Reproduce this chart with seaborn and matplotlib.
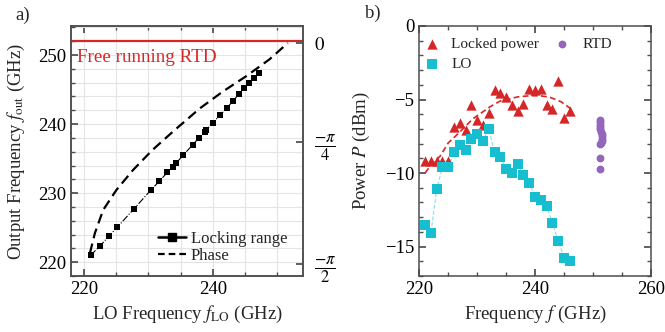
import matplotlib
matplotlib.use("Agg")
import matplotlib.pyplot as plt
from matplotlib.lines import Line2D
from matplotlib.ticker import MultipleLocator, NullLocator
import numpy as np
import seaborn as sns

# ---- panel a: locking range and phase ----
LOCK_LO = [221.03, 222.47, 223.86, 225.2, 227.82, 230.34, 231.73, 232.96, 233.79, 234.3,
           235.43, 236.88, 237.81, 238.75, 238.95, 239.97, 241.1, 242.18, 243.15, 244.07,
           244.85, 245.57, 246.34, 247.16]
LOCK_OUT = [220.97, 222.33, 223.74, 225.09, 227.77, 230.39, 231.75, 233.01, 233.83, 234.32,
            235.53, 236.99, 237.96, 238.9, 239.1, 240.2, 241.25, 242.33, 243.35, 244.37,
            245.24, 245.97, 246.7, 247.42]
PHASE_LO = [220.93, 221.7, 222.99, 225.05, 227.62, 230.63, 234.1, 238.01, 241.56, 245.22, 248.81, 251.64]
PHASE_RAD = [-1.502, -1.373, -1.223, -1.094, -0.966, -0.837, -0.69, -0.518, -0.385, -0.262, -0.129, 0.0]
FREE_RUNNING_GHZ = 252.1
PHASE_TICKS = [0, -np.pi / 4, -np.pi / 2]
PHASE_TICK_LABELS = ["$0$", r"$\frac{-\pi}{4}$", r"$\frac{-\pi}{2}$"]

# ---- panel b: output power ----
FREQ = [221, 222, 223, 224, 225, 226, 227, 228, 229, 230, 231, 232, 233,
        234, 235, 236, 237, 238, 239, 240, 241, 242, 243, 244, 245, 246]
LOCKED_P = [-9.15, -9.15, -9.15, -9.15, -9.15, -6.9, -6.6, -7.1, -5.37, -6.42, -6.7, -5.9, -4.33,
            -4.58, -4.83, -5.35, -5.76, -5.31, -4.28, -4.33, -4.28, -5.35, -5.67, -3.72, -6.24, -5.76]
LO_P = [-13.5, -14.1, -11.1, -9.6, -9.6, -8.6, -8.1, -8.4, -7.7, -7.35, -7.8, -7.0, -8.6,
        -8.9, -9.7, -10.0, -9.35, -10.15, -10.7, -11.6, -11.8, -12.25, -13.4, -14.6, -15.75, -16.0]
FIT_F = [221.0, 222.0, 223.6, 225.0, 226.5, 229.3, 232.2, 234.0, 235.7, 237.0, 239.2, 241.0, 242.6, 244.5, 246.1]
FIT_P = [-10.0, -9.45, -8.85, -7.95, -7.4, -6.3, -5.5, -5.1, -4.95, -4.82, -4.74, -4.75, -4.85, -5.15, -5.6]
RTD_F = [251.2, 251.2, 251.25, 251.25, 251.3, 251.35, 251.5, 251.6, 251.65, 251.6, 251.4, 251.2, 251.2, 251.2]
RTD_P = [-6.4, -6.55, -6.7, -6.85, -7.0, -7.2, -7.35, -7.5, -7.65, -7.8, -7.95, -8.05, -9.0, -9.7]

RED = "#d62728"
CYAN = "#17becf"
PURPLE = "#9467bd"
SPINE = "0.3"

sns.set_theme(style="ticks")
plt.rcParams.update({
    "font.family": ["Liberation Serif", "DejaVu Serif"],
    "mathtext.fontset": "stix",
    "font.size": 13.5,
    "axes.labelsize": 13.5,
    "xtick.labelsize": 13.5,
    "ytick.labelsize": 13.5,
    "axes.edgecolor": SPINE,
    "axes.linewidth": 1.1,
    "xtick.color": SPINE,
    "ytick.color": SPINE,
    "xtick.labelcolor": "black",
    "ytick.labelcolor": "black",
    "xtick.direction": "in",
    "ytick.direction": "in",
    "xtick.major.size": 5,
    "ytick.major.size": 5,
    "xtick.minor.size": 3,
    "ytick.minor.size": 3,
})

# piecewise axis for the phase scale (as drawn in the original)
KNOT_V = [-3 * np.pi / 4, -np.pi / 2, -np.pi / 4, 0, np.pi / 4]
KNOT_U = [-122, 0, 122, 221, 320]


def phase_fwd(v):
    return np.interp(v, KNOT_V, KNOT_U)


def phase_inv(u):
    return np.interp(u, KNOT_U, KNOT_V)


fig = plt.figure(figsize=(6.65, 3.32), dpi=100)
axa = fig.add_axes([71 / 665, 56 / 332, 232 / 665, 250 / 332])
axb = fig.add_axes([419.3 / 665, 56 / 332, 231.4 / 665, 250 / 332])

# ---------- a) ----------
axa.set_xlim(218, 254)
axa.set_ylim(218, 254.2)
axa.xaxis.set_major_locator(MultipleLocator(20))
axa.xaxis.set_minor_locator(MultipleLocator(5))
axa.yaxis.set_major_locator(MultipleLocator(10))
axa.yaxis.set_minor_locator(MultipleLocator(2))
axa.grid(which="both", color="#e4e4e4", lw=0.8)
axa.set_axisbelow(True)
axa.tick_params(which="both", top=True, right=False)

sns.lineplot(x=LOCK_LO, y=LOCK_OUT, ax=axa, color="black", lw=0.8, linestyle="-.", sort=False)
sns.scatterplot(x=LOCK_LO, y=LOCK_OUT, ax=axa, color="black", marker="s", s=20, linewidth=0, zorder=3)
axa.axhline(FREE_RUNNING_GHZ, color=RED, lw=1.6)
axa.text(218.9, 249.0, "Free running RTD", color=RED, fontsize=13.7, va="baseline", ha="left")

axa.set_xlabel(r"LO Frequency $f_{\rm LO}$ (GHz)", labelpad=4)
axa.set_ylabel(r"Output Frequency $f_{\rm out}$ (GHz)")
axa.yaxis.set_label_coords(-0.19, 0.5)

axp = axa.twinx()
axp.set_yscale("function", functions=(phase_fwd, phase_inv))
axp.set_ylim(-1.648, 0.135)
sns.lineplot(x=PHASE_LO, y=PHASE_RAD, ax=axp, color="black", lw=1.6, sort=False)
axp.lines[-1].set_dashes((4.5, 2.5))
axp.set_yticks(PHASE_TICKS)
axp.set_yticklabels(PHASE_TICK_LABELS)
for lbl in axp.get_yticklabels()[1:]:
    lbl.set_fontsize(17)
axp.yaxis.set_minor_locator(NullLocator())
axp.tick_params(axis="y", which="major", pad=8)

handles = [Line2D([], [], color="black", marker="s", ms=6, lw=1.8),
           Line2D([], [], color="black", ls=(0, (3, 1.8)), lw=1.6)]
axp.legend(handles, ["Locking range", "Phase"], loc="lower right", frameon=False,
           fontsize=12, handlelength=1.7, handletextpad=0.25, labelspacing=0.1,
           bbox_to_anchor=(0.996, -0.013))

fig.text(15 / 665, 1 - 20 / 332, "a)", fontsize=13.5, va="baseline")

# ---------- b) ----------
axb.set_xlim(220, 260)
axb.set_ylim(-17, 0)
axb.xaxis.set_major_locator(MultipleLocator(20))
axb.xaxis.set_minor_locator(MultipleLocator(5))
axb.yaxis.set_major_locator(MultipleLocator(5))
axb.yaxis.set_minor_locator(MultipleLocator(1))
axb.tick_params(which="both", top=True, right=True)

sns.lineplot(x=FREQ, y=LO_P, ax=axb, color="#8fdde6", lw=0.8, linestyle="--", sort=False)
sns.lineplot(x=FIT_F, y=FIT_P, ax=axb, color=RED, lw=1.2, sort=False)
axb.lines[-1].set_dashes((3.5, 2))
sns.scatterplot(x=FREQ, y=LOCKED_P, ax=axb, color=RED, marker="^", s=55, linewidth=0,
                label="Locked power", zorder=3)
sns.scatterplot(x=FREQ, y=LO_P, ax=axb, color=CYAN, marker="s", s=45, linewidth=0,
                label="LO", zorder=3)
sns.scatterplot(x=RTD_F, y=RTD_P, ax=axb, color=PURPLE, marker="o", s=32, linewidth=0,
                label="RTD", zorder=3)
axb.legend(loc="upper left", ncol=2, frameon=False, fontsize=11, handlelength=1.0,
           handletextpad=0.8, columnspacing=1.0, labelspacing=0.4, borderpad=0.3,
           borderaxespad=0.0, bbox_to_anchor=(0.0, 0.972))

axb.set_xlabel(r"Frequency $f$ (GHz)", labelpad=4)
axb.set_ylabel(r"Power $P$ (dBm)")
axb.yaxis.set_label_coords(-0.205, 0.5)

fig.text(365 / 665, 1 - 18 / 332, "b)", fontsize=13.5, va="baseline")

fig.savefig("out.png", dpi=100)
